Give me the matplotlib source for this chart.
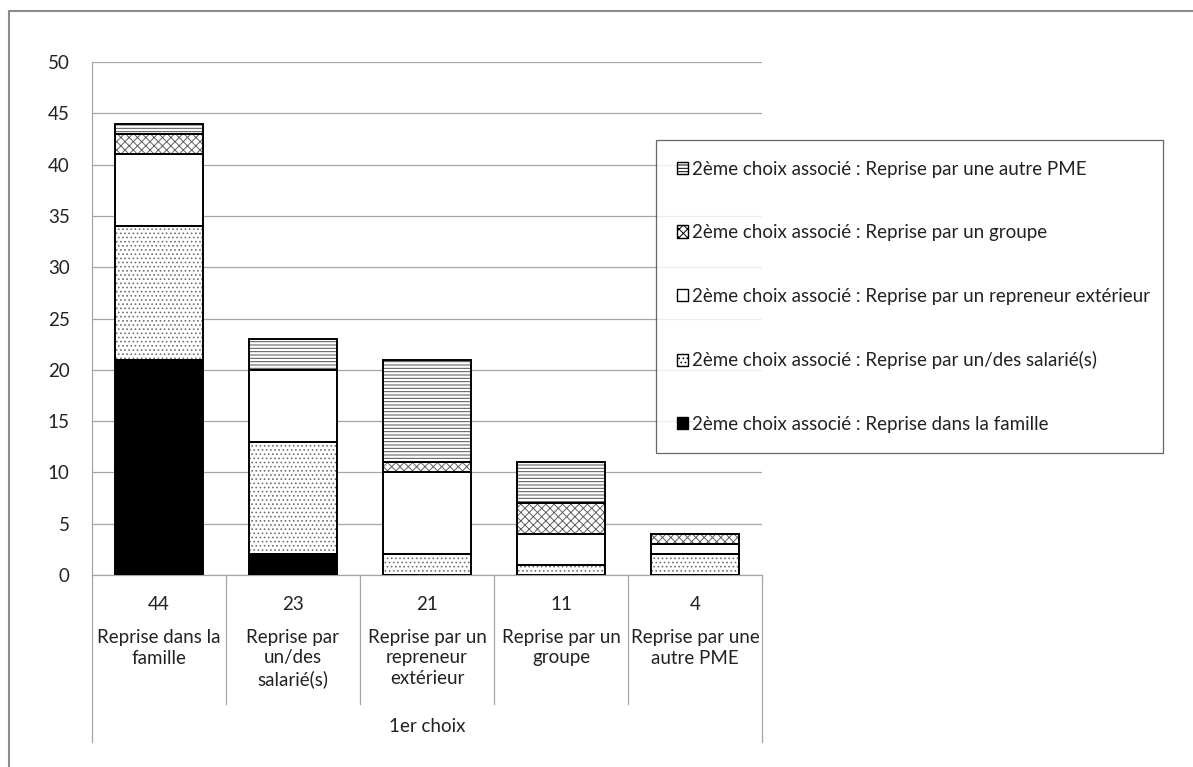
import matplotlib

matplotlib.use("Agg")
import matplotlib.pyplot as plt
import numpy as np
from matplotlib.patches import Patch, Rectangle
from matplotlib.transforms import blended_transform_factory

plt.rcParams["font.family"] = ["Lato", "DejaVu Sans"]
plt.rcParams["hatch.linewidth"] = 0.7

# 1er choix categories
categories = [
    "Reprise dans la\nfamille",
    "Reprise par\nun/des\nsalarié(s)",
    "Reprise par un\nrepreneur\nextérieur",
    "Reprise par un\ngroupe",
    "Reprise par une\nautre PME",
]

# 2ème choix associé, stacked bottom to top
famille = [21, 2, 0, 0, 0]
salaries = [13, 11, 2, 1, 2]
repreneur = [7, 7, 8, 3, 1]
groupe = [2, 0, 1, 3, 1]
autre_pme = [1, 3, 10, 4, 0]

series_labels = [
    "2ème choix associé : Reprise dans la famille",
    "2ème choix associé : Reprise par un/des salarié(s)",
    "2ème choix associé : Reprise par un repreneur extérieur",
    "2ème choix associé : Reprise par un groupe",
    "2ème choix associé : Reprise par une autre PME",
]
series = [famille, salaries, repreneur, groupe, autre_pme]

# fill colour, hatch pattern, hatch colour
styles = [
    ("black", None, "black"),
    ("white", "....", "#707070"),
    ("white", None, "black"),
    ("white", "xxxx", "#606060"),
    ("white", "-----", "#505050"),
]

FS = 13.5
TXT = "#222222"
W, H = 1193, 767
fig = plt.figure(figsize=(W / 100, H / 100), dpi=100)
ax = fig.add_axes([92 / W, (H - 575) / H, (762 - 92) / W, (575 - 62) / H])

x = np.arange(len(categories))
bottom = np.zeros(len(categories))
for values, (face, hatch, hcolor) in zip(series, styles):
    values = np.array(values, dtype=float)
    # hatch layer first, then the black outline on top
    ax.bar(x, values, 0.65, bottom=bottom, color=face, hatch=hatch,
           edgecolor=hcolor, linewidth=0, zorder=2)
    ax.bar(x, values, 0.65, bottom=bottom, facecolor="none",
           edgecolor="black", linewidth=1.4, zorder=3)
    bottom += values
totals = bottom

ax.set_xlim(-0.5, len(categories) - 0.5)
ax.set_ylim(0, 50)
ax.set_yticks(np.arange(0, 51, 5))
ax.tick_params(axis="y", length=0, pad=16, labelsize=FS, labelcolor=TXT)
ax.set_xticks([])
ax.yaxis.grid(True, color="#a6a6a6", linewidth=0.9)
ax.set_axisbelow(True)
for side in ["top", "right"]:
    ax.spines[side].set_visible(False)
for side in ["left", "bottom"]:
    ax.spines[side].set_color("#a6a6a6")
    ax.spines[side].set_linewidth(0.9)

# category axis: separators, totals, labels and the group label
trans = blended_transform_factory(ax.transData, ax.transAxes)
px = 1 / (575 - 62)
for i in range(len(categories) + 1):
    edge = i - 0.5
    low = -(742 - 575) * px if i in (0, len(categories)) else -(704 - 575) * px
    ax.plot([edge, edge], [0, low], transform=trans, color="#a6a6a6",
            linewidth=0.9, clip_on=False)
for i, (label, total) in enumerate(zip(categories, totals)):
    ax.text(i, -(604 - 575) * px, f"{total:.0f}", transform=trans,
            ha="center", va="center", fontsize=FS, color=TXT)
    ax.text(i, -(629 - 575) * px, label, transform=trans, ha="center",
            va="top", fontsize=FS, color=TXT, linespacing=1.25)
ax.text(0.5, -(727 - 575) * px, "1er choix", transform=ax.transAxes,
        ha="center", va="center", fontsize=FS, color=TXT)

# legend, top entry is the last stacked series
handles = []
for face, hatch, hcolor in styles:
    handles.append(Patch(facecolor=face, hatch=hatch, edgecolor="black",
                         linewidth=1.0))
leg = fig.legend(handles[::-1], series_labels[::-1],
                 loc="upper left",
                 bbox_to_anchor=(656 / W, 1 - 451 / H, (1163 - 656) / W, (451 - 140) / H),
                 mode="expand", fontsize=FS, frameon=True, fancybox=False,
                 handlelength=0.62, handleheight=0.62, handletextpad=0.22,
                 labelspacing=2.48, borderpad=1.1, borderaxespad=0)
leg.get_frame().set_edgecolor("#404040")
leg.get_frame().set_linewidth(0.9)
for t in leg.get_texts():
    t.set_color(TXT)

# chart area border
fig.patches.append(Rectangle((9 / W, -0.1), 1.2, 1.1 - 11 / H,
                             transform=fig.transFigure, fill=False,
                             edgecolor="#8c8c8c", linewidth=1.5))

fig.savefig("out.png", dpi=100)
